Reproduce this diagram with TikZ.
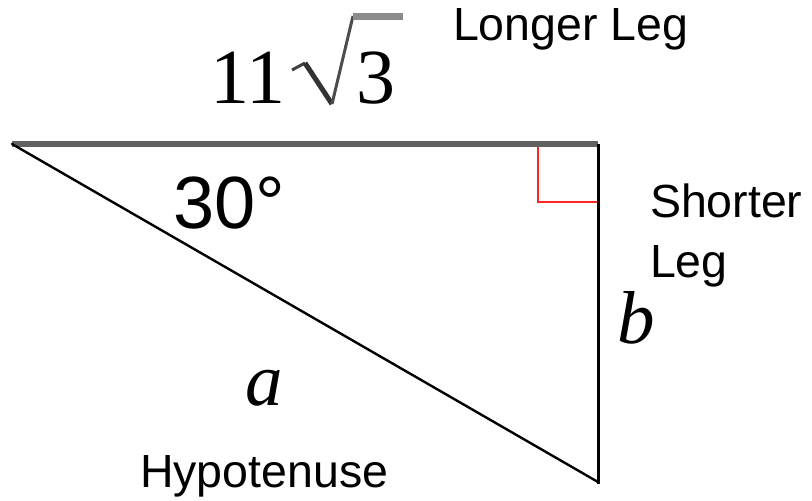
\documentclass[tikz,border=0pt]{standalone}
\usepackage{fontspec}
\setmainfont{Liberation Serif}
\newfontfamily\arialfont{Liberation Sans}
\begin{document}
\begin{tikzpicture}[x=1pt,y=-1pt,
  lbl/.style={inner sep=0pt,outer sep=0pt,anchor=base west},
  sanslbl/.style={lbl,font=\arialfont\fontsize{46.5}{60}\selectfont},
  seriflbl/.style={lbl,font=\fontsize{78}{80}\selectfont},
  varlbl/.style={lbl,font=\itshape\fontsize{75}{80}\selectfont}]
\useasboundingbox (0,0) rectangle (812,501);
\coordinate (A) at (12,144);
\coordinate (B) at (598,144);
\coordinate (C) at (598,482);
\coordinate (R1) at (538,144);
\coordinate (R2) at (538,202);
\coordinate (R3) at (598,202);
% right angle mark
\draw[red!85,line width=2.5pt] (R1) -- (R2) -- (R3);
% sides
\draw[black!62,line width=6pt] (A) -- (B);
\draw[black,line width=3pt] (B) -- ([yshift=-1.5pt]C);
\draw[black,line width=2.4pt,line cap=round] (A) -- (C);
% labels
\node[sanslbl] (longer) at (453,40) {Longer Leg};
\node[sanslbl,align=left] (shorter) at (650,277) {Shorter\\Leg};
\node[sanslbl] (hyp) at (140,487) {Hypotenuse};
\node[lbl,font=\arialfont\fontsize{74}{80}\selectfont] (ang) at (173,228) {30°};
\node[seriflbl] (eleven) at (210,103) {11};
\node[seriflbl] (three) at (356,103) {3};
\coordinate (S1) at (292,70);
\coordinate (S2) at (305,63);
\coordinate (S3) at (332,104);
\coordinate (S4) at (353,16);
\coordinate (S5) at (403,16);
\draw[black!75,line width=3pt] (S1) -- (S2);
\draw[black!80,line width=5pt] (S2) -- (S3);
\draw[black!70,line width=3pt] (S3) -- (S4);
\draw[black!45,line width=7pt] (S4) -- (S5);
\node[varlbl] (a) at (245,405) {a};
\node[varlbl] (b) at (617,343) {b};
\end{tikzpicture}
\end{document}
